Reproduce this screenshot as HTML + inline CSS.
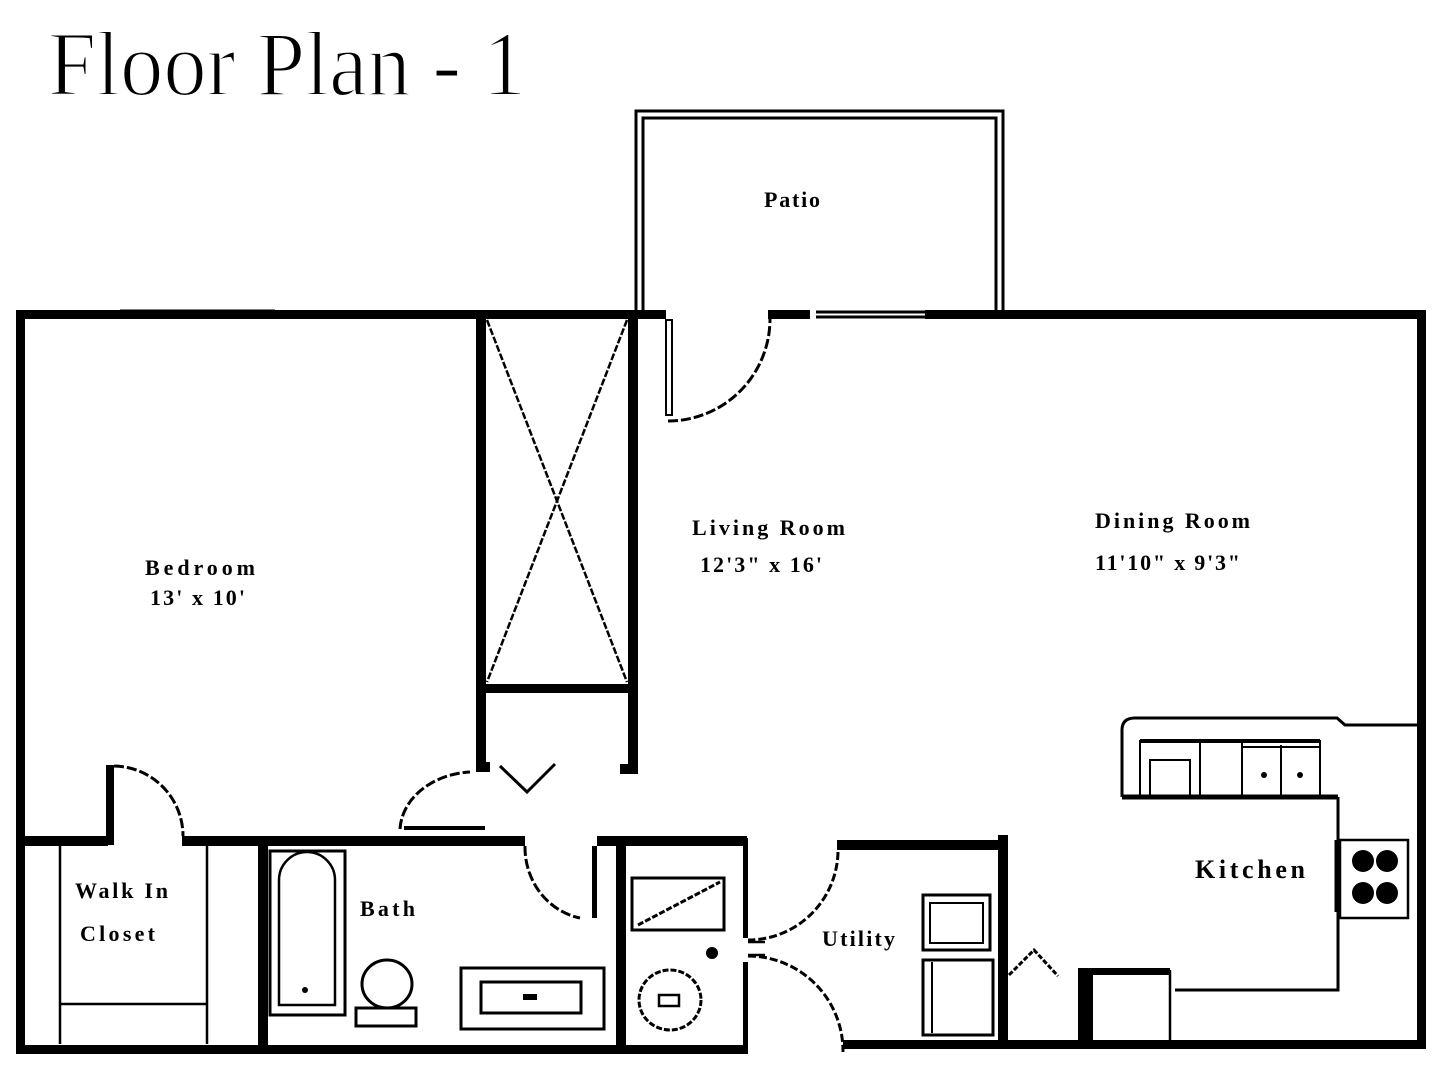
<!DOCTYPE html>
<html><head><style>
html,body{margin:0;padding:0;background:#fff;}
svg{display:block}
text{font-family:"Liberation Serif",serif;fill:#000}
.l{font-weight:bold;font-size:22px}
</style></head><body>
<svg width="1440" height="1080" viewBox="0 0 1440 1080" xmlns="http://www.w3.org/2000/svg">
<rect width="1440" height="1080" fill="#fff"/>
<text x="48" y="95" font-size="92" textLength="478" lengthAdjust="spacingAndGlyphs" style="font-weight:normal" stroke="#fff" stroke-width="2">Floor Plan - 1</text>

<g fill="#000">
<rect x="16" y="310" width="650" height="9"/>
<rect x="768" y="310" width="42" height="9"/>
<rect x="925" y="310" width="501" height="9"/>
<rect x="16" y="310" width="9" height="744"/>
<rect x="1417" y="310" width="9" height="738"/>
<rect x="16" y="1045" width="732" height="9"/>
<rect x="843" y="1040" width="583" height="9"/>
<rect x="476" y="318" width="10" height="452"/>
<rect x="628" y="318" width="10" height="456"/>
<rect x="486" y="684" width="142" height="9"/>
<rect x="620" y="764" width="18" height="10"/>
<rect x="476" y="762" width="14" height="10"/>
<rect x="16" y="836" width="92" height="10"/>
<rect x="106" y="765" width="8" height="80"/>
<rect x="182" y="836" width="343" height="10"/>
<rect x="597" y="836" width="150" height="10"/>
<rect x="258" y="840" width="10" height="210"/>
<rect x="616" y="840" width="10" height="210"/>
<rect x="592" y="846" width="5" height="72"/>
<rect x="743" y="838" width="5" height="100"/>
<rect x="743" y="962" width="5" height="90"/>
<rect x="837" y="840" width="168" height="10"/>
<rect x="998" y="835" width="10" height="210"/>
<rect x="1078" y="968" width="15" height="75"/>
<rect x="1078" y="968" width="92" height="7"/>
</g>

<g fill="none" stroke="#000" stroke-width="3">
<path d="M636 310 V111 H1003 V310"/>
<path d="M643 310 V118 H996 V310"/>
<path d="M120 311 H275 M120 317 H275"/>
<path d="M816 312 H925 M816 317 H925"/>
<path d="M925 312 H1115 M925 317 H1115" stroke-width="2"/>
<path d="M487 320 L627 682 M627 320 L487 682" stroke-width="2.5" stroke-dasharray="7 2"/>
<rect x="666" y="320" width="6" height="95" stroke-width="2"/>
<path d="M668 421 A102 102 0 0 0 770 319" stroke-dasharray="10 3"/>
<path d="M114 766 A70 70 0 0 1 183 836" stroke-dasharray="10 3"/>
<path d="M400 829 A75 60 0 0 1 470 772" stroke-dasharray="10 3"/>
<path d="M404 828 H485" stroke-width="4"/>
<path d="M500 766 L527 792 L555 764"/>
<path d="M525 846 A68 72 0 0 0 580 918" stroke-dasharray="10 3"/>
<path d="M60 846 V1044 M207 846 V1044 M60 1004 H207" stroke-width="2.5"/>
<rect x="270" y="851" width="75" height="164"/>
<path d="M279 1005 V880 A27 27 0 0 1 335 880 V1005 Z" stroke-width="2.5"/>
<ellipse cx="387" cy="984" rx="25" ry="24"/>
<rect x="356" y="1008" width="60" height="18"/>
<rect x="461" y="968" width="143" height="61"/>
<rect x="481" y="982" width="100" height="31"/>
<rect x="632" y="878" width="92" height="52"/>
<path d="M638 925 L720 882" stroke-dasharray="6 2"/>
<ellipse cx="670" cy="1000" rx="31" ry="30" stroke-dasharray="6 2"/>
<rect x="659" y="995" width="20" height="11" stroke-width="2.5"/>
<path d="M748 942 H765 M748 955 H765" stroke-width="2.5"/>
<path d="M838 852 A90 90 0 0 1 748 940" stroke-dasharray="8 3"/>
<path d="M748 956 A95 95 0 0 1 843 1052" stroke-dasharray="8 3"/>
<rect x="923" y="895" width="67" height="55"/>
<rect x="930" y="903" width="53" height="40" stroke-width="2"/>
<rect x="923" y="960" width="70" height="75"/>
<path d="M932 962 V1033" stroke-width="2"/>
<path d="M1009 975 L1034 950 L1058 976" stroke-dasharray="5 2"/>
<path d="M1005 835 V850" stroke-width="2"/>
<path d="M1170 970 V1042" stroke-width="2.5"/>
<path d="M1175 990 H1338 V797"/>
<path d="M1122 797 V730 Q1122 718 1135 718 H1337 L1345 725 H1418"/>
<path d="M1122 797 H1338" stroke-width="5"/>
<path d="M1140 741 H1320" stroke-width="4"/>
<rect x="1140" y="741" width="60" height="56" stroke-width="2"/>
<rect x="1150" y="760" width="40" height="37" stroke-width="2"/>
<rect x="1242" y="741" width="78" height="56" stroke-width="2"/>
<path d="M1281 745 V797 M1242 747 H1320" stroke-width="2"/>
<rect x="1340" y="840" width="68" height="78" stroke-width="2.5"/>
<path d="M1337 840 V912" stroke-width="5"/>
</g>
<g fill="#000">
<circle cx="305" cy="990" r="3"/>
<rect x="523" y="994" width="14" height="6"/>
<circle cx="712" cy="953" r="6"/>
<circle cx="1264" cy="775" r="3"/>
<circle cx="1300" cy="775" r="3"/>
<circle cx="1363" cy="861" r="11"/>
<circle cx="1387" cy="861" r="11"/>
<circle cx="1363" cy="893" r="11"/>
<circle cx="1387" cy="893" r="11"/>
</g>

<text class="l" x="764" y="207" textLength="56">Patio</text>
<text class="l" x="692" y="535" textLength="153">Living Room</text>
<text class="l" x="700" y="572" textLength="122">12'3" x 16'</text>
<text class="l" x="1095" y="528" textLength="155">Dining Room</text>
<text class="l" x="1095" y="570" textLength="145">11'10" x 9'3"</text>
<text class="l" x="145" y="575" textLength="110">Bedroom</text>
<text class="l" x="150" y="605" textLength="95">13' x 10'</text>
<text class="l" x="75" y="898" textLength="93">Walk In</text>
<text class="l" x="80" y="941" textLength="75">Closet</text>
<text class="l" x="360" y="916" textLength="55">Bath</text>
<text class="l" x="822" y="946" textLength="73">Utility</text>
<text class="l" x="1195" y="878" style="font-size:26px" textLength="110">Kitchen</text>
</svg>
</body></html>
